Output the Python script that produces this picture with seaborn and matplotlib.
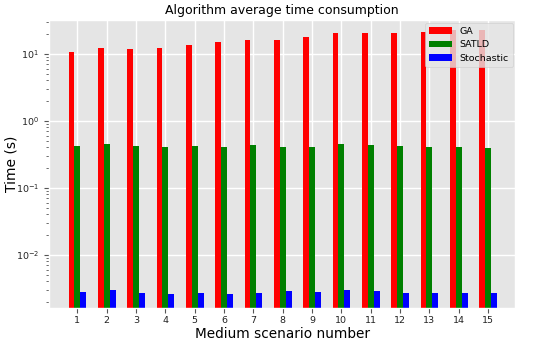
import matplotlib
matplotlib.use("Agg")
import matplotlib.pyplot as plt
import seaborn as sns
import pandas as pd

scenarios = [str(i) for i in range(1, 16)]
ga = [10.7, 12.3, 11.6, 12.1, 13.6, 15.1, 16.2, 16.3, 17.5, 20.1, 20.3, 20.3, 20.8, 23.0, 22.3]
satld = [0.42, 0.446, 0.42, 0.406, 0.42, 0.406, 0.435, 0.40, 0.40, 0.446, 0.44, 0.426, 0.406, 0.406, 0.393]
stochastic = [0.00274, 0.00293, 0.00271, 0.00255, 0.00271, 0.00262, 0.00271, 0.00283, 0.00278,
              0.00293, 0.00283, 0.00271, 0.00264, 0.00264, 0.00264]
algorithms = ["GA", "SATLD", "Stochastic"]
colors = ["red", "green", "blue"]

rows = []
for name, vals in zip(algorithms, [ga, satld, stochastic]):
    for s, v in zip(scenarios, vals):
        rows.append({"scenario": s, "time": v, "algorithm": name})
df = pd.DataFrame(rows)

plt.style.use("ggplot")
fig = plt.figure(figsize=(5.5, 3.43), dpi=100)
ax = fig.add_axes([0.089, 0.102, 0.848, 0.84])
ax.set_yscale("log")
sns.barplot(data=df, x="scenario", y="time", hue="algorithm", palette=colors,
            hue_order=algorithms, order=scenarios, width=0.6, saturation=1,
            errorbar=None, linewidth=0, ax=ax)
ax.set_ylim(0.0016, 32)
ax.set_xlim(-0.97, 14.93)
ax.set_title("Algorithm average time consumption", fontsize=9, color="black", pad=4)
ax.set_xlabel("Medium scenario number", fontsize=9.8, color="black", labelpad=2)
ax.set_ylabel("Time (s)", fontsize=10, color="black")
ax.yaxis.set_label_coords(-0.066, 0.5)
ax.tick_params(axis="both", labelsize=6.8, labelcolor="#222222")
ax.tick_params(axis="x", pad=2)
ax.grid(True, which="major", color="white", linewidth=1)
ax.set_axisbelow(True)
leg = ax.legend(loc="upper right", fontsize=6.8, title=None, borderaxespad=0.3,
                handlelength=2.4)
fig.savefig("out.png", dpi=100)
